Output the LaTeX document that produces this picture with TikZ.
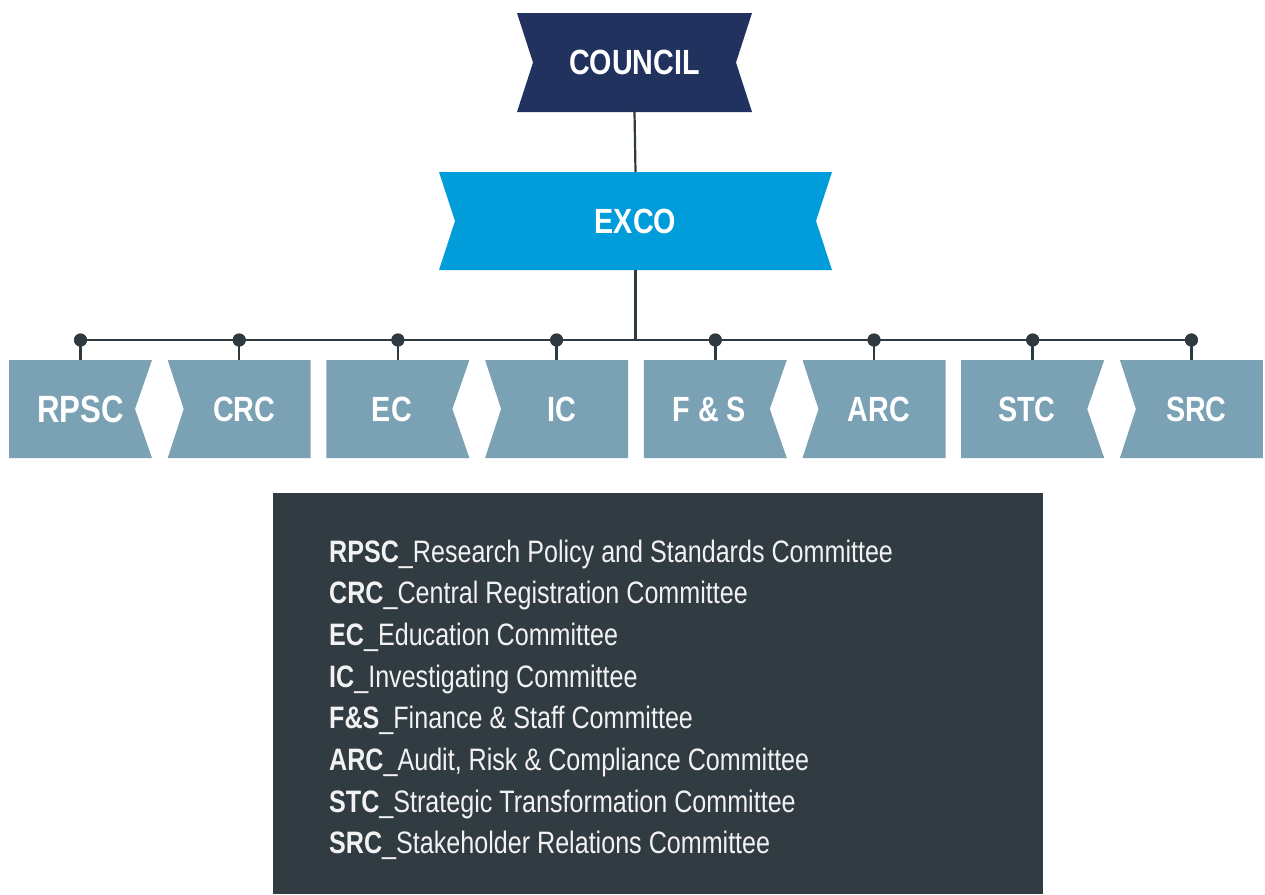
\documentclass[tikz,border=0pt]{standalone}
\usepackage{fontspec}
\setmainfont{Liberation Sans}[FakeStretch=0.82]
\newfontfamily\keyfont{Liberation Sans}[FakeStretch=0.81]
\usetikzlibrary{calc}
\definecolor{councilblue}{HTML}{21325E}
\definecolor{excoblue}{HTML}{019CDA}
\definecolor{committee}{HTML}{7BA1B5}
\definecolor{panel}{HTML}{313B42}
\definecolor{wire}{HTML}{2F3A40}
\definecolor{keytext}{HTML}{F2F2F2}
\begin{document}
\begin{tikzpicture}[x=1pt,y=-1pt,
  % rectangle whose left/right sides are cut in by a V notch of the given depth
  notched/.style n args={3}{
    path picture={
      \fill[#1] (path picture bounding box.north west)
        -- (path picture bounding box.north east)
        -- ($(path picture bounding box.east)+(-#3,0)$)
        -- (path picture bounding box.south east)
        -- (path picture bounding box.south west)
        -- ($(path picture bounding box.west)+(#2,0)$) -- cycle;}},
  boxbase/.style={inner sep=0pt, outer sep=0pt, text=white, font=\bfseries\fontsize{35}{40}\selectfont},
  topbox/.style={boxbase, minimum width=235pt, minimum height=99pt, notched={councilblue}{16}{16}},
  execbox/.style={boxbase, minimum width=393pt, minimum height=98pt, notched={excoblue}{16}{16}},
  cboxplain/.style={boxbase, minimum width=143pt, minimum height=98pt, notched={committee}{0}{17}},
  % label nudged away from the notch (a leading skip of 2s moves it by s)
  cboxR/.style={cboxplain, execute at begin node={\hspace*{-12pt}}},
  cboxL/.style={boxbase, minimum width=143pt, minimum height=98pt, notched={committee}{16}{0},
    execute at begin node={\hspace*{10pt}}},
  joint/.style={circle, fill=wire, inner sep=0pt, minimum size=13pt},
  conn/.style={draw=wire, line width=2.5pt},
  keyline/.style={anchor=base west, inner sep=0pt, text=keytext, font=\keyfont\fontsize{31}{36}\selectfont},
]
\useasboundingbox (0,0) rectangle (1265,894);

% governing bodies
\node[topbox] (council) at (634.5,62.5) {COUNCIL};
\node[execbox] (exco) at (635.5,221) {EXCO};

% committees
\node[cboxplain] (b1) at (80.5,409) {\fontsize{38}{42}\selectfont RPSC};
\node[cboxL] (b2) at (239.2,409) {CRC};
\node[cboxR] (b3) at (397.9,409) {EC};
\node[cboxL] (b4) at (556.6,409) {IC};
\node[cboxR] (b5) at (715.3,409) {F \& S};
\node[cboxL] (b6) at (874.0,409) {ARC};
\node[cboxR] (b7) at (1032.7,409) {STC};
\node[cboxL] (b8) at (1191.4,409) {SRC};

% junction dots on the distribution bar
\foreach \i/\x in {1/80.5,2/239.2,3/397.9,4/556.6,5/715.3,6/874.0,7/1032.7,8/1191.4}
  \node[joint] (d\i) at (\x,340) {};

% connectors
\draw[conn, line width=2.2pt] (council.south) -- (exco.north);
\draw[conn] (d1.center) -- (d8.center);
\draw[conn] (exco.south) -- (exco.south |- d1.center);
\foreach \i in {1,...,8}
  \draw[conn] (d\i.center) -- (b\i.north);
\foreach \i in {1,...,8}
  \node[joint] at (d\i) {};

% key panel
\node[fill=panel, inner sep=0pt, minimum width=770pt, minimum height=401pt] (legend) at (658,693.5) {};
\node[keyline] (k1) at (329,562.0) {\textbf{RPSC}\_Research Policy and Standards Committee};
\node[keyline] (k2) at (329,603.7) {\textbf{CRC}\_Central Registration Committee};
\node[keyline] (k3) at (329,645.4) {\textbf{EC}\_Education Committee};
\node[keyline] (k4) at (329,687.1) {\textbf{IC}\_Investigating Committee};
\node[keyline] (k5) at (329,728.8) {\textbf{F\&S}\_Finance \& Staff Committee};
\node[keyline] (k6) at (329,770.5) {\textbf{ARC}\_Audit, Risk \& Compliance Committee};
\node[keyline] (k7) at (329,812.2) {\textbf{STC}\_Strategic Transformation Committee};
\node[keyline] (k8) at (329,853.9) {\textbf{SRC}\_Stakeholder Relations Committee};
\end{tikzpicture}
\end{document}
